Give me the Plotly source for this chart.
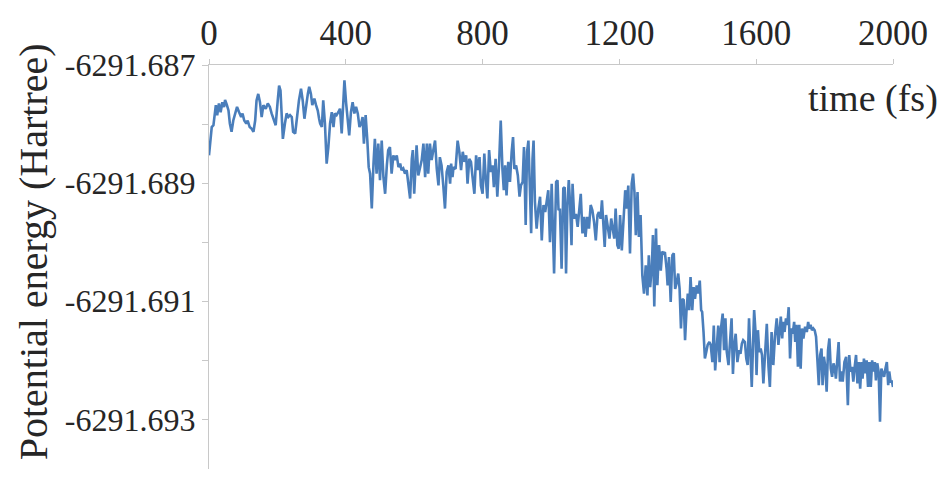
import plotly.graph_objects as go

# time (fs)
time_fs = [
    0, 8, 13, 20, 24, 29, 34, 39, 44, 47, 52, 57, 61, 66, 71, 76, 82, 88, 94, 98,
    103, 109, 113, 119, 125, 130, 135, 139, 144, 149, 154, 159, 166, 172, 178, 183, 190, 195, 201, 205,
    209, 213, 216, 222, 227, 232, 237, 242, 246, 252, 256, 263, 269, 274, 279, 284, 289, 293, 298, 302,
    308, 313, 318, 322,
    325, 330, 334, 339, 344, 349, 354, 359, 364, 368, 373, 378, 383, 388, 393, 396, 401, 406, 410, 415,
    420, 425, 430, 435, 440, 445, 449, 453, 458, 463, 467, 471, 476, 481, 485, 490, 495, 500, 505, 510,
    515, 520, 524, 529, 534, 539, 544, 549, 554, 559, 563, 568, 573, 578, 583, 588, 593, 596, 600, 603,
    607, 612, 617, 622, 627, 632, 637, 641, 646, 651, 656, 661,
    666, 671, 675, 680, 685, 690, 695, 700, 705, 708, 712, 715, 721, 727, 732, 737, 742, 747, 752, 756,
    761, 766, 771, 776, 781, 786, 791, 795, 800, 805, 809, 814, 819, 824, 829, 833, 838, 843, 848, 853,
    858, 862, 866, 870, 875, 880, 885, 889, 893, 898, 903, 908, 912, 917, 921, 926, 930, 934, 938, 942,
    946, 949, 953, 958, 963, 968, 973, 978, 983, 987, 992, 997, 1002,
    1009, 1015, 1019, 1022, 1026, 1031, 1036, 1040, 1044, 1048, 1052, 1056, 1060, 1063, 1068, 1073, 1078, 1083, 1087, 1092,
    1097, 1101, 1106, 1111, 1116, 1121, 1126, 1131, 1136, 1140, 1145, 1149, 1153, 1157, 1161, 1166, 1171, 1176, 1180, 1185,
    1189, 1194, 1198, 1202, 1207, 1212, 1217, 1221, 1226, 1231, 1236, 1240, 1244, 1248, 1253, 1257, 1262, 1267, 1272, 1277,
    1282, 1286, 1290, 1295, 1298, 1302, 1307, 1311, 1316, 1321, 1325, 1329,
    1333, 1338, 1341, 1345, 1350, 1355, 1359, 1363, 1367, 1372, 1376, 1380, 1384, 1388, 1392, 1396, 1400, 1404, 1408, 1413,
    1417, 1421, 1426, 1430, 1435, 1439, 1442, 1446, 1450, 1454, 1458, 1463, 1467, 1472, 1476, 1480, 1484, 1489, 1493, 1497,
    1502, 1506, 1510, 1514, 1519, 1523, 1528, 1532, 1536, 1540, 1545, 1550, 1554, 1558, 1562, 1567, 1571, 1575, 1579, 1583,
    1587, 1591, 1594, 1598, 1601, 1605, 1609, 1613, 1617, 1621, 1626, 1631, 1636, 1640, 1645, 1650, 1655, 1660, 1665,
    1672, 1676, 1679, 1683, 1687, 1691, 1695, 1699, 1703, 1707, 1711, 1714, 1718, 1722, 1726, 1730, 1734, 1738, 1743, 1748,
    1752, 1755, 1759, 1763, 1767, 1771, 1775, 1779, 1783, 1787, 1791, 1794, 1798, 1802, 1806, 1810, 1814, 1818, 1822, 1826,
    1830, 1833, 1837, 1841, 1845, 1849, 1853, 1858, 1863, 1868, 1872, 1876, 1880, 1884, 1888, 1892, 1896, 1900, 1904, 1908,
    1911, 1915, 1919, 1923, 1927, 1931, 1935, 1939, 1943, 1947, 1950, 1954, 1958, 1962, 1966, 1970, 1974, 1978, 1982, 1986,
    1989, 1993, 1997, 2000,
]

# potential energy (Hartree)
energy_hartree = [
    -6291.68853, -6291.68805, -6291.68802, -6291.68768, -6291.68785, -6291.68765, -6291.68780, -6291.68763, -6291.68771, -6291.68759,
    -6291.68767, -6291.68777, -6291.68799, -6291.68813, -6291.68794, -6291.68782, -6291.68771, -6291.68780, -6291.68788, -6291.68782,
    -6291.68794, -6291.68799, -6291.68794, -6291.68805, -6291.68808, -6291.68813, -6291.68794, -6291.68760, -6291.68749, -6291.68763,
    -6291.68788, -6291.68768, -6291.68774, -6291.68765, -6291.68771, -6291.68782, -6291.68794, -6291.68802, -6291.68760, -6291.68735,
    -6291.68743, -6291.68782, -6291.68825, -6291.68799, -6291.68782, -6291.68788, -6291.68785, -6291.68788, -6291.68813, -6291.68816,
    -6291.68794, -6291.68760, -6291.68740, -6291.68760, -6291.68791, -6291.68768, -6291.68749, -6291.68737, -6291.68749, -6291.68768,
    -6291.68757, -6291.68768, -6291.68777, -6291.68791,
    -6291.68799, -6291.68805, -6291.68760, -6291.68799, -6291.68867, -6291.68839, -6291.68799, -6291.68780, -6291.68805, -6291.68782,
    -6291.68785, -6291.68780, -6291.68774, -6291.68816, -6291.68771, -6291.68726, -6291.68765, -6291.68794, -6291.68819, -6291.68780,
    -6291.68763, -6291.68782, -6291.68771, -6291.68782, -6291.68805, -6291.68799, -6291.68788, -6291.68833, -6291.68785, -6291.68828,
    -6291.68873, -6291.68884, -6291.68943, -6291.68867, -6291.68825, -6291.68884, -6291.68833, -6291.68895, -6291.68828, -6291.68890,
    -6291.68918, -6291.68870, -6291.68844, -6291.68839, -6291.68884, -6291.68853, -6291.68861, -6291.68853, -6291.68873, -6291.68867,
    -6291.68878, -6291.68875, -6291.68884, -6291.68878, -6291.68901, -6291.68926, -6291.68859, -6291.68844, -6291.68918, -6291.68878,
    -6291.68836, -6291.68887, -6291.68873, -6291.68861, -6291.68833, -6291.68890, -6291.68833, -6291.68884, -6291.68833, -6291.68861,
    -6291.68844, -6291.68828,
    -6291.68876, -6291.68904, -6291.68856, -6291.68870, -6291.68904, -6291.68943, -6291.68881, -6291.68870, -6291.68901, -6291.68867,
    -6291.68890, -6291.68873, -6291.68876, -6291.68828, -6291.68847, -6291.68878, -6291.68847, -6291.68864, -6291.68853, -6291.68901,
    -6291.68859, -6291.68864, -6291.68892, -6291.68918, -6291.68853, -6291.68878, -6291.68856, -6291.68904, -6291.68918, -6291.68850,
    -6291.68890, -6291.68926, -6291.68844, -6291.68881, -6291.68870, -6291.68907, -6291.68859, -6291.68923, -6291.68870, -6291.68794,
    -6291.68876, -6291.68912, -6291.68870, -6291.68921, -6291.68864, -6291.68898, -6291.68847, -6291.68822, -6291.68876, -6291.68870,
    -6291.68887, -6291.68923, -6291.68904, -6291.68898, -6291.68839, -6291.68971, -6291.68847, -6291.68828, -6291.68904, -6291.68985,
    -6291.68859, -6291.68828, -6291.68932, -6291.68977, -6291.68943, -6291.68923, -6291.68997, -6291.68937, -6291.68949, -6291.68932,
    -6291.68912, -6291.69000, -6291.68901,
    -6291.69053, -6291.68898, -6291.68895, -6291.68946, -6291.68943, -6291.69045, -6291.68909, -6291.68907, -6291.69053, -6291.68937,
    -6291.68895, -6291.68937, -6291.69005, -6291.68901, -6291.68960, -6291.68952, -6291.68974, -6291.68935, -6291.68918, -6291.68985,
    -6291.68957, -6291.68991, -6291.68957, -6291.68977, -6291.68937, -6291.68946, -6291.68966, -6291.68997, -6291.68954, -6291.68949,
    -6291.68960, -6291.68929, -6291.68980, -6291.69008, -6291.68954, -6291.68971, -6291.68994, -6291.68960, -6291.68974, -6291.68994,
    -6291.68943, -6291.69005, -6291.69011, -6291.68954, -6291.69014, -6291.68960, -6291.68912, -6291.68943, -6291.68904, -6291.69019,
    -6291.68901, -6291.68884, -6291.68915, -6291.68988, -6291.68915, -6291.68991, -6291.68954, -6291.69056, -6291.69087, -6291.69039,
    -6291.69090, -6291.69022, -6291.69076, -6291.69039, -6291.68988, -6291.69109, -6291.68977, -6291.69073, -6291.69005, -6291.69048,
    -6291.69016, -6291.69019,
    -6291.69017, -6291.69045, -6291.69073, -6291.69025, -6291.69101, -6291.69022, -6291.69019, -6291.69079, -6291.69070, -6291.69053,
    -6291.69079, -6291.69146, -6291.69096, -6291.69098, -6291.69166, -6291.69118, -6291.69087, -6291.69115, -6291.69059, -6291.69115,
    -6291.69076, -6291.69096, -6291.69073, -6291.69087, -6291.69065, -6291.69115, -6291.69118, -6291.69152, -6291.69197, -6291.69186,
    -6291.69174, -6291.69169, -6291.69174, -6291.69203, -6291.69141, -6291.69217, -6291.69174, -6291.69141, -6291.69203, -6291.69146,
    -6291.69121, -6291.69183, -6291.69129, -6291.69186, -6291.69208, -6291.69169, -6291.69129, -6291.69223, -6291.69174, -6291.69155,
    -6291.69203, -6291.69183, -6291.69189, -6291.69172, -6291.69166, -6291.69169, -6291.69197, -6291.69208, -6291.69129, -6291.69186,
    -6291.69245, -6291.69169, -6291.69115, -6291.69152, -6291.69225, -6291.69149, -6291.69186, -6291.69180, -6291.69191, -6291.69239,
    -6291.69183, -6291.69138, -6291.69211, -6291.69245, -6291.69152, -6291.69208, -6291.69158, -6291.69129, -6291.69174,
    -6291.69126, -6291.69163, -6291.69135, -6291.69152, -6291.69129, -6291.69140, -6291.69110, -6291.69197, -6291.69146, -6291.69155,
    -6291.69135, -6291.69169, -6291.69140, -6291.69211, -6291.69140, -6291.69214, -6291.69146, -6291.69163, -6291.69143, -6291.69152,
    -6291.69135, -6291.69146, -6291.69140, -6291.69149, -6291.69146, -6291.69149, -6291.69160, -6291.69200, -6291.69242, -6291.69191,
    -6291.69180, -6291.69242, -6291.69194, -6291.69211, -6291.69253, -6291.69183, -6291.69163, -6291.69214, -6291.69228, -6291.69205,
    -6291.69214, -6291.69231, -6291.69203, -6291.69169, -6291.69236, -6291.69219, -6291.69236, -6291.69203, -6291.69194, -6291.69276,
    -6291.69191, -6291.69219, -6291.69211, -6291.69236, -6291.69211, -6291.69191, -6291.69239, -6291.69203, -6291.69248, -6291.69203,
    -6291.69231, -6291.69197, -6291.69222, -6291.69200, -6291.69245, -6291.69203, -6291.69245, -6291.69200, -6291.69219, -6291.69203,
    -6291.69234, -6291.69205, -6291.69219, -6291.69304, -6291.69214, -6291.69222, -6291.69228, -6291.69214, -6291.69203, -6291.69242,
    -6291.69219, -6291.69236, -6291.69236, -6291.69245,
]

x_ticks = [0, 400, 800, 1200, 1600, 2000]
y_tick_vals = [-6291.687, -6291.688, -6291.689, -6291.690, -6291.691, -6291.692, -6291.693]
y_tick_text = ["-6291.687", "", "-6291.689", "", "-6291.691", "", "-6291.693"]

x_title = "time (fs)"
y_title = "Potential energy (Hartree)"

FONT = "Liberation Serif"
AXIS_COLOR = "#c8c8c8"
TEXT_COLOR = "#262626"

fig = go.Figure()
fig.add_trace(go.Scatter(
    x=time_fs, y=energy_hartree, mode="lines",
    line=dict(color="#4a7ebb", width=2.6),
    showlegend=False, hoverinfo="skip",
))

# page body has an 8px default margin; sizes/margins compensate for it
fig.update_layout(
    width=939, height=461,
    margin=dict(l=201, r=54, t=57, b=0),
    paper_bgcolor="white", plot_bgcolor="white",
    font=dict(family=FONT, color=TEXT_COLOR),
    xaxis=dict(
        side="top", range=[0, 2000],
        tickvals=x_ticks, ticktext=[str(v) for v in x_ticks],
        showgrid=False, zeroline=False,
        showline=True, linecolor=AXIS_COLOR, linewidth=1.3,
        ticks="outside", ticklen=5, tickcolor=AXIS_COLOR, tickwidth=1.3,
        tickfont=dict(family=FONT, size=35, color=TEXT_COLOR),
    ),
    yaxis=dict(
        range=[-6291.69384, -6291.687],
        tickvals=y_tick_vals, ticktext=y_tick_text,
        showgrid=False, zeroline=False,
        showline=True, linecolor=AXIS_COLOR, linewidth=1.3,
        ticks="outside", ticklen=6, tickcolor=AXIS_COLOR, tickwidth=1.3,
        tickfont=dict(family=FONT, size=32, color=TEXT_COLOR),
    ),
    annotations=[
        dict(text=x_title, xref="paper", yref="paper", x=1.0687, y=0.918,
             xanchor="right", yanchor="middle", showarrow=False,
             font=dict(family=FONT, size=38, color=TEXT_COLOR)),
        dict(text=y_title, xref="paper", yref="paper", x=-0.257, y=0.537,
             xanchor="center", yanchor="middle", textangle=-90, showarrow=False,
             font=dict(family=FONT, size=40, color=TEXT_COLOR)),
    ],
)

fig.write_html("out.html")
